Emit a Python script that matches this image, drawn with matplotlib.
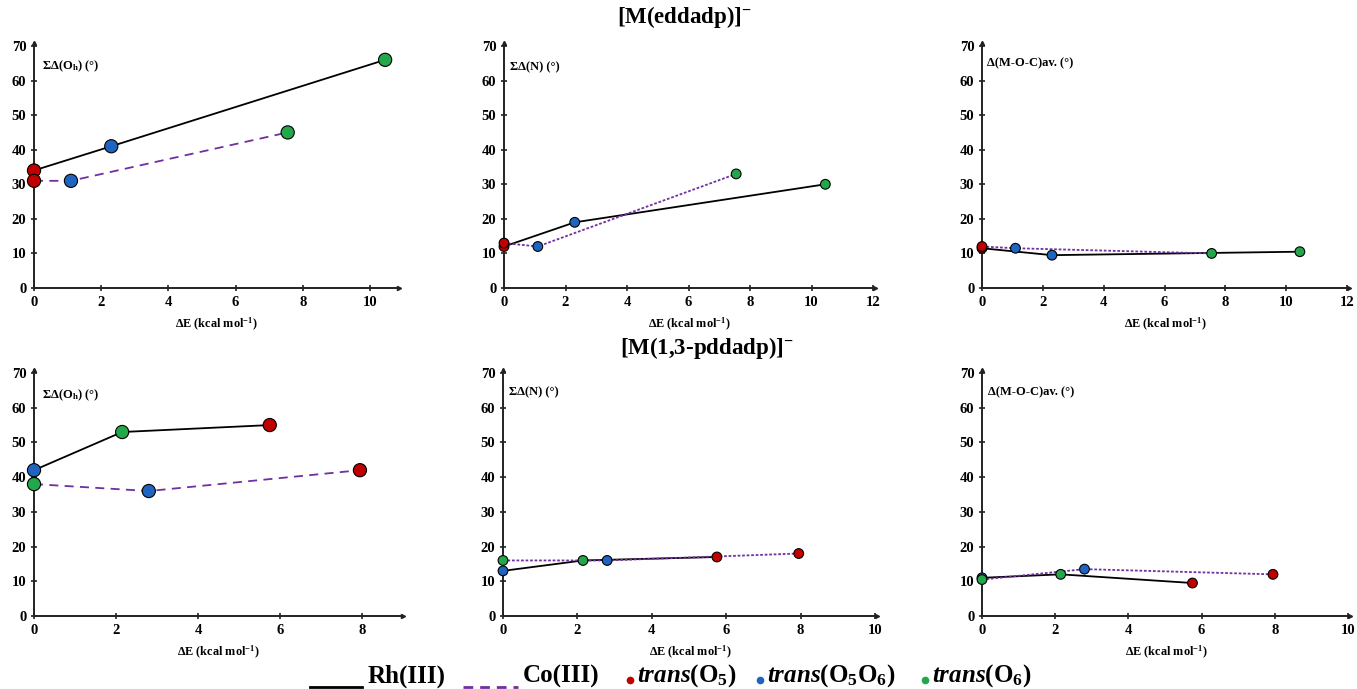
import matplotlib.pyplot as plt
from matplotlib.lines import Line2D

plt.rcParams['font.family'] = ['Liberation Serif', 'DejaVu Serif']
plt.rcParams['font.weight'] = 'bold'
plt.rcParams['mathtext.fontset'] = 'custom'
plt.rcParams['mathtext.rm'] = 'Liberation Serif:bold'
plt.rcParams['mathtext.bf'] = 'Liberation Serif:bold'
plt.rcParams['mathtext.it'] = 'Liberation Serif:italic:bold'

RED, BLUE, GREEN = '#C00000', '#1F64C0', '#22A84A'
PURPLE = '#7030A0'

# ---- data: [M(eddadp)]- (top row) ----
dE_rh_top = [0, 2.3, 10.45]
dE_co_top = [0, 1.1, 7.55]
col_rh_top = [RED, BLUE, GREEN]
col_co_top = [RED, BLUE, GREEN]
oh_rh_top = [34, 41, 66]
oh_co_top = [31, 31, 45]
n_rh_top = [12, 19, 30]
n_co_top = [13, 12, 33]
moc_rh_top = [11.5, 9.5, 10.5]
moc_co_top = [12, 11.5, 10]

# ---- data: [M(1,3-pddadp)]- (bottom row) ----
dE_rh_bot = [0, 2.15, 5.75]
dE_co_bot = [0, 2.8, 7.95]
col_rh_bot = [BLUE, GREEN, RED]
col_co_bot = [GREEN, BLUE, RED]
oh_rh_bot = [42, 53, 55]
oh_co_bot = [38, 36, 42]
n_rh_bot = [13, 16, 17]
n_co_bot = [16, 16, 18]
moc_rh_bot = [11, 12, 9.5]
moc_co_bot = [10.5, 13.5, 12]

ylabels = [r'ΣΔ(O$_\mathbf{h}$) (°)', 'ΣΔ(N) (°)', 'Δ(M-O-C)av. (°)']

W, H = 1357, 689
fig = plt.figure(figsize=(W / 100, H / 100), dpi=100)


def add_panel(x0, x_ref, x_ref_val, xmax, y0, y70):
    ppu = (x_ref - x0) / x_ref_val
    x1 = x0 + xmax * ppu
    ytop = y70 - (y0 - y70) / 70 * 1.0
    ax = fig.add_axes([x0 / W, 1 - y0 / H, (x1 - x0) / W, (y0 - ytop) / H])
    ax.set_xlim(0, xmax)
    ax.set_ylim(0, 71)
    return ax


def style(ax, xticks, label, ylab_pos):
    for s in ['top', 'right']:
        ax.spines[s].set_visible(False)
    for s in ['left', 'bottom']:
        ax.spines[s].set_linewidth(1.4)
        ax.spines[s].set_color('#222222')
    ax.set_xticks(xticks)
    ax.set_yticks(range(0, 71, 10))
    ax.tick_params(direction='inout', length=5, width=1.2, labelsize=10.5,
                   pad=3, colors='#222222', labelcolor='black')
    ax.plot(1, 0, '>', color='#222222', ms=3, transform=ax.transAxes, clip_on=False)
    ax.plot(0, 1, '^', color='#222222', ms=3, transform=ax.transAxes, clip_on=False)
    ax.set_xlabel('ΔE (kcal mol$^{-1}$)', fontsize=8.8, fontweight='bold', labelpad=5)
    fig.text(ylab_pos[0] / W, 1 - ylab_pos[1] / H, label, fontsize=9,
             fontweight='bold', va='center', ha='left')


def draw(ax, x_rh, y_rh, c_rh, x_co, y_co, c_co, dashes, ms):
    ax.plot(x_rh, y_rh, color='black', lw=1.3, zorder=2, clip_on=False)
    ax.plot(x_co, y_co, color=PURPLE, lw=1.3, dashes=dashes, zorder=2, clip_on=False)
    ax.scatter(x_rh, y_rh, c=c_rh, s=ms ** 2, edgecolors='black', linewidths=0.8,
               zorder=3, clip_on=False)
    ax.scatter(x_co, y_co, c=c_co, s=ms ** 2, edgecolors='black', linewidths=0.8,
               zorder=3, clip_on=False)


# top row
ax1 = add_panel(34, 370, 10, 10.85, 288, 46)
draw(ax1, dE_rh_top, oh_rh_top, col_rh_top, dE_co_top, oh_co_top, col_co_top, (5, 3.5), 9.5)
style(ax1, range(0, 11, 2), ylabels[0], (42, 66))

ax2 = add_panel(504, 873, 12, 12.05, 288, 46)
draw(ax2, dE_rh_top, n_rh_top, col_rh_top, dE_co_top, n_co_top, col_co_top, (1.5, 1), 7)
style(ax2, range(0, 13, 2), ylabels[1], (510, 67))

ax3 = add_panel(982, 1347, 12, 12.05, 288, 46)
draw(ax3, dE_rh_top, moc_rh_top, col_rh_top, dE_co_top, moc_co_top, col_co_top, (1.5, 1), 7)
style(ax3, range(0, 13, 2), ylabels[2], (987, 63))

# bottom row
ax4 = add_panel(34, 362, 8, 9.0, 616, 373)
draw(ax4, dE_rh_bot, oh_rh_bot, col_rh_bot, dE_co_bot, oh_co_bot, col_co_bot, (5, 3.5), 9.5)
style(ax4, range(0, 9, 2), ylabels[0], (42, 395))

ax5 = add_panel(503, 875, 10, 10.05, 616, 373)
draw(ax5, dE_rh_bot, n_rh_bot, col_rh_bot, dE_co_bot, n_co_bot, col_co_bot, (1.5, 1), 7)
style(ax5, range(0, 11, 2), ylabels[1], (509, 392))

ax6 = add_panel(982, 1348, 10, 10.05, 616, 373)
draw(ax6, dE_rh_bot, moc_rh_bot, col_rh_bot, dE_co_bot, moc_co_bot, col_co_bot, (1.5, 1), 7)
style(ax6, range(0, 11, 2), ylabels[2], (988, 392))

# row titles
fig.text(685 / W, 1 - 17 / H, r'[M(eddadp)]$^{\mathbf{-}}$', fontsize=16.5,
         fontweight='bold', ha='center', va='center')
fig.text(707 / W, 1 - 348 / H, r'[M(1,3-pddadp)]$^{\mathbf{-}}$', fontsize=16.5,
         fontweight='bold', ha='center', va='center')

# legend
ly = 1 - 676 / H
fig.add_artist(Line2D([310 / W, 362 / W], [1 - 687 / H] * 2, color='black', lw=2))
fig.text(368 / W, ly, 'Rh(III)', fontsize=18, fontweight='bold', va='center')
fig.add_artist(Line2D([463 / W, 518 / W], [1 - 687 / H] * 2, color=PURPLE, lw=2,
                      dashes=(3.5, 2.5)))
fig.text(523 / W, ly, 'Co(III)', fontsize=18, fontweight='bold', va='center')
for xd, col, lab in [(630, RED, r'$\mathit{trans}$(O$_5$)'),
                     (760, BLUE, r'$\mathit{trans}$(O$_5$O$_6$)'),
                     (925, GREEN, r'$\mathit{trans}$(O$_6$)')]:
    fig.add_artist(Line2D([xd / W], [1 - 680 / H], marker='o', color=col, ms=4.5, lw=0))
    fig.text((xd + 7) / W, ly, lab, fontsize=18, fontweight='bold', va='center')

fig.savefig('out.png', dpi=100)
